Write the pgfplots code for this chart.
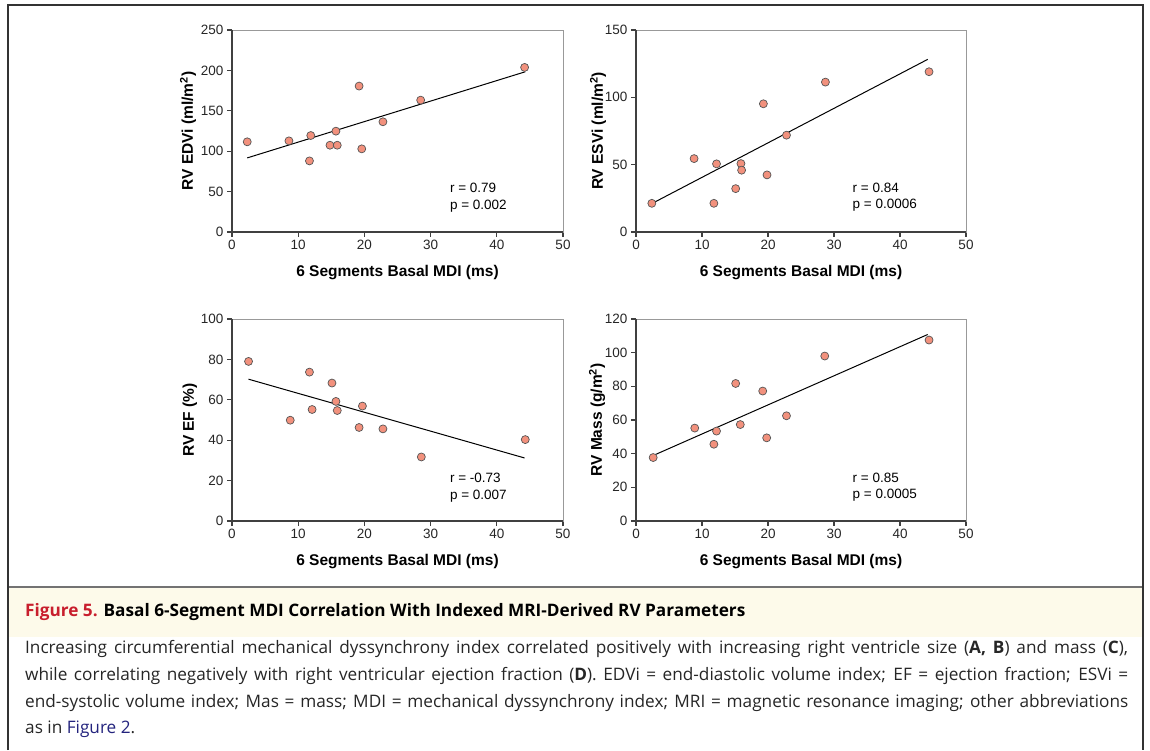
\documentclass[border=0pt]{standalone}
\usepackage{fontspec}
\setmainfont{Liberation Sans}
\newfontfamily\capfont{Open Sans}
\usepackage{pgfplots}
\pgfplotsset{compat=1.18}

\definecolor{dot}{RGB}{242,145,125}
\definecolor{dotedge}{RGB}{85,85,85}
\definecolor{capbg}{RGB}{253,250,234}
\definecolor{figred}{RGB}{200,30,45}
\definecolor{linkblue}{RGB}{35,35,125}

\pgfplotsset{
 mdi/.style={
  scale only axis, width=331pt, height=202pt, anchor=south west,
  xmin=0, xmax=50, xtick={0,10,...,50}, ymin=0,
  axis line style={draw=gray!80, line width=0.9pt},
  tick align=outside, xtick pos=left, ytick pos=left,
  major tick length=5pt, tick style={black!75, line width=1.1pt},
  tick label style={font=\fontsize{13.5}{14}\selectfont, text=black!85},
  /pgf/number format/assume math mode=true,
  label style={font=\bfseries\fontsize{15.5}{16}\selectfont},
  xlabel={6 Segments Basal MDI (ms)},
  xlabel style={at={(axis description cs:0.5,-0.203)}, anchor=center},
  clip=false,
 },
 dots/.style={only marks, mark=*, mark size=4pt,
  mark options={fill=dot, draw=dotedge, line width=0.7pt}},
 fit/.style={black, line width=1pt, no marks},
}
\newcommand{\frameaxis}{\draw[black!75, line width=1.3pt] (rel axis cs:0,1) -- (rel axis cs:0,0) -- (rel axis cs:1,0);}

\begin{document}
\begin{tikzpicture}
\useasboundingbox (0,0) rectangle (1150pt,750pt);

% A: EDVi
\begin{axis}[mdi, at={(232pt,518pt)}, ymax=250, ytick={0,50,...,250},
 ylabel={RV EDVi (ml/m\textsuperscript{2})},
 ylabel style={at={(axis description cs:-0.133,0.5)}, anchor=center}]
\frameaxis
\addplot[dots] coordinates {(2.3,111.6) (8.6,112.8) (11.9,119.4) (11.7,88) (14.8,107.4) (15.9,107.4)
 (15.7,124.8) (19.2,180.6) (19.6,102.9) (22.8,136.4) (28.5,163.2) (44.2,203.7)};
\addplot[fit] coordinates {(2.3,91.7) (44.3,198.3)};
\node[anchor=west, font=\fontsize{13.5}{14}\selectfont] at (axis cs:32.4,54.5) {r = 0.79};
\node[anchor=west, font=\fontsize{13.5}{14}\selectfont] at (axis cs:32.4,31.8) {p = 0.002};
\end{axis}

% B: ESVi
\begin{axis}[mdi, width=330pt, at={(636pt,518pt)}, ymax=150, ytick={0,50,100,150},
 ylabel={RV ESVi (ml/m\textsuperscript{2})},
 ylabel style={at={(axis description cs:-0.115,0.5)}, anchor=center}]
\frameaxis
\addplot[dots] coordinates {(2.4,21.3) (8.8,54.5) (12.2,50.6) (11.8,21.3) (15.1,32.2) (15.9,50.8)
 (16.0,45.9) (19.3,95.2) (19.85,42.4) (22.8,71.9) (28.7,111.3) (44.4,119)};
\addplot[fit] coordinates {(2.4,21.1) (44.2,128.2)};
\node[anchor=west, font=\fontsize{13.5}{14}\selectfont] at (axis cs:32.3,32.7) {r = 0.84};
\node[anchor=west, font=\fontsize{13.5}{14}\selectfont] at (axis cs:32.3,19.6) {p = 0.0006};
\end{axis}

% C: EF
\begin{axis}[mdi, at={(232pt,229pt)}, ymax=100, ytick={0,20,...,100},
 ylabel={RV EF (\%)},
 ylabel style={at={(axis description cs:-0.127,0.5)}, anchor=center}]
\frameaxis
\addplot[dots] coordinates {(2.5,79.0) (8.8,49.9) (11.7,73.7) (12.1,55.2) (15.1,68.3) (15.7,59.2)
 (15.9,54.7) (19.2,46.3) (19.7,56.9) (22.8,45.6) (28.6,31.7) (44.3,40.3)};
\addplot[fit] coordinates {(2.5,70.2) (44.2,31.2)};
\node[anchor=west, font=\fontsize{13.5}{14}\selectfont] at (axis cs:32.4,21.2) {r = -0.73};
\node[anchor=west, font=\fontsize{13.5}{14}\selectfont] at (axis cs:32.4,12.4) {p = 0.007};
\end{axis}

% D: Mass
\begin{axis}[mdi, width=330pt, at={(636pt,229pt)}, ymax=120, ytick={0,20,...,120},
 ylabel={RV Mass (g/m\textsuperscript{2})},
 ylabel style={at={(axis description cs:-0.118,0.5)}, anchor=center}]
\frameaxis
\addplot[dots] coordinates {(2.6,37.7) (8.9,55.2) (11.8,45.6) (12.2,53.4) (15.1,81.7) (15.8,57.3)
 (19.2,77.2) (19.8,49.4) (22.8,62.5) (28.6,98.0) (44.4,107.5)};
\addplot[fit] coordinates {(2.6,38.9) (44.2,110.8)};
\node[anchor=west, font=\fontsize{13.5}{14}\selectfont] at (axis cs:32.3,25.4) {r = 0.85};
\node[anchor=west, font=\fontsize{13.5}{14}\selectfont] at (axis cs:32.3,15.5) {p = 0.0005};
\end{axis}

% caption panel
\fill[capbg] (9pt,162pt) rectangle (1142pt,113pt);
\draw[black!55, line width=1.2pt] (8pt,163pt) -- (1143pt,163pt);
\draw[black!80, line width=1.3pt] (8pt,0pt) -- (8pt,745pt) -- (1143pt,745pt) -- (1143pt,0pt);

\node[anchor=base west, inner sep=0pt, font=\capfont\bfseries\fontsize{17.2}{19}\selectfont]
 at (25pt,134pt) {\textcolor{figred}{Figure 5.} Basal 6-Segment MDI Correlation With Indexed MRI-Derived RV Parameters};
\begin{scope}[every node/.style={anchor=base west, inner sep=0pt, font=\capfont\fontsize{17.2}{19}\selectfont, text=black!85}]
\node at (25pt,97pt) {\makebox[1103pt][s]{Increasing circumferential mechanical dyssynchrony index correlated positively with increasing right ventricle size (\textbf{A, B}) and mass (\textbf{C}),}};
\node at (25pt,70pt) {\makebox[1103pt][s]{while correlating negatively with right ventricular ejection fraction (\textbf{D}). EDVi = end-diastolic volume index; EF = ejection fraction; ESVi =}};
\node at (25pt,43pt) {\makebox[1103pt][s]{end-systolic volume index; Mas = mass; MDI = mechanical dyssynchrony index; MRI = magnetic resonance imaging; other abbreviations}};
\node at (25pt,17pt) {as in \textcolor{linkblue}{Figure 2}.};
\end{scope}
\end{tikzpicture}
\end{document}
